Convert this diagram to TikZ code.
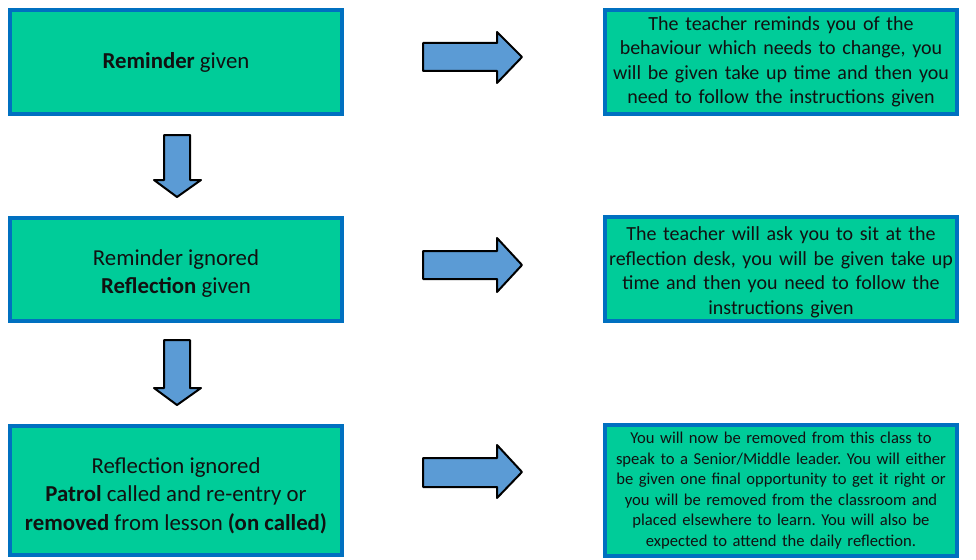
\documentclass[tikz,border=0pt]{standalone}
\usepackage{fontspec}
\setmainfont{Carlito}
\frenchspacing
\definecolor{boxfill}{HTML}{00CC99}
\definecolor{boxline}{HTML}{0070C0}
\definecolor{arrfill}{HTML}{5B9BD5}
\definecolor{txt}{HTML}{111111}
\begin{document}
\begin{tikzpicture}[x=1pt,y=-1pt,
  box/.style={draw=boxline,fill=boxfill,line width=4pt,inner sep=0pt,align=center,text=txt},
  lbox/.style={box,minimum width=332pt,font=\fontsize{22.8}{28.5}\selectfont},
  rbox/.style={box,minimum width=352pt,text width=346pt,font=\fontsize{20}{24.5}\selectfont},
  sbox/.style={box,minimum width=352pt,text width=346pt,font=\fontsize{16.6}{20.5}\selectfont},
  blockarrow/.style={draw=black,fill=arrfill,line width=2pt,line join=round}]
\useasboundingbox (0,0) rectangle (976,559);
% left boxes
\node[lbox,minimum height=104pt] (l1) at (176,62) {\textbf{Reminder} given};
\node[lbox,minimum height=103pt] (l2) at (176,269.5) {\rule{0pt}{24pt}Reminder ignored\\\textbf{Reflection} given};
\node[lbox,minimum height=129pt] (l3) at (176,490.5) {\rule{0pt}{26pt}Reflection ignored\\\textbf{Patrol} called and re-entry or\\\textbf{removed} from lesson \textbf{(on called)}};
% right boxes
\node[rbox,minimum height=104pt] (r1) at (781,62) {The teacher reminds you of the\\behaviour which needs to change, you\\will be given take up time and then you\\need to follow the instructions given};
\node[rbox,minimum height=104pt] (r2) at (781,269) {\rule{0pt}{20pt}The teacher will ask you to sit at the\\reflection desk, you will be given take up\\time and then you need to follow the\\instructions given};
\node[sbox,minimum height=131pt] (r3) at (781,490.5) {You will now be removed from this class to\\speak to a Senior/Middle leader. You will either\\be given one final opportunity to get it right or\\you will be removed from the classroom and\\placed elsewhere to learn. You will also be\\expected to attend the daily reflection.};
% right block arrows
\draw[blockarrow] (423,43) -- (497,43) -- (497,32) -- (522,57) -- (497,83) -- (497,71) -- (423,71) -- cycle;
\draw[blockarrow] (423,251) -- (497,251) -- (497,238) -- (522,265) -- (497,292) -- (497,279) -- (423,279) -- cycle;
\draw[blockarrow] (423,458) -- (497,458) -- (497,445) -- (522,472) -- (497,498) -- (497,487) -- (423,487) -- cycle;
% down block arrows
\draw[blockarrow] (164,135) -- (190,135) -- (190,180) -- (201,180) -- (177,197) -- (154,180) -- (164,180) -- cycle;
\draw[blockarrow] (164,340) -- (190,340) -- (190,388) -- (201,388) -- (177,405) -- (154,388) -- (164,388) -- cycle;
\end{tikzpicture}
\end{document}
